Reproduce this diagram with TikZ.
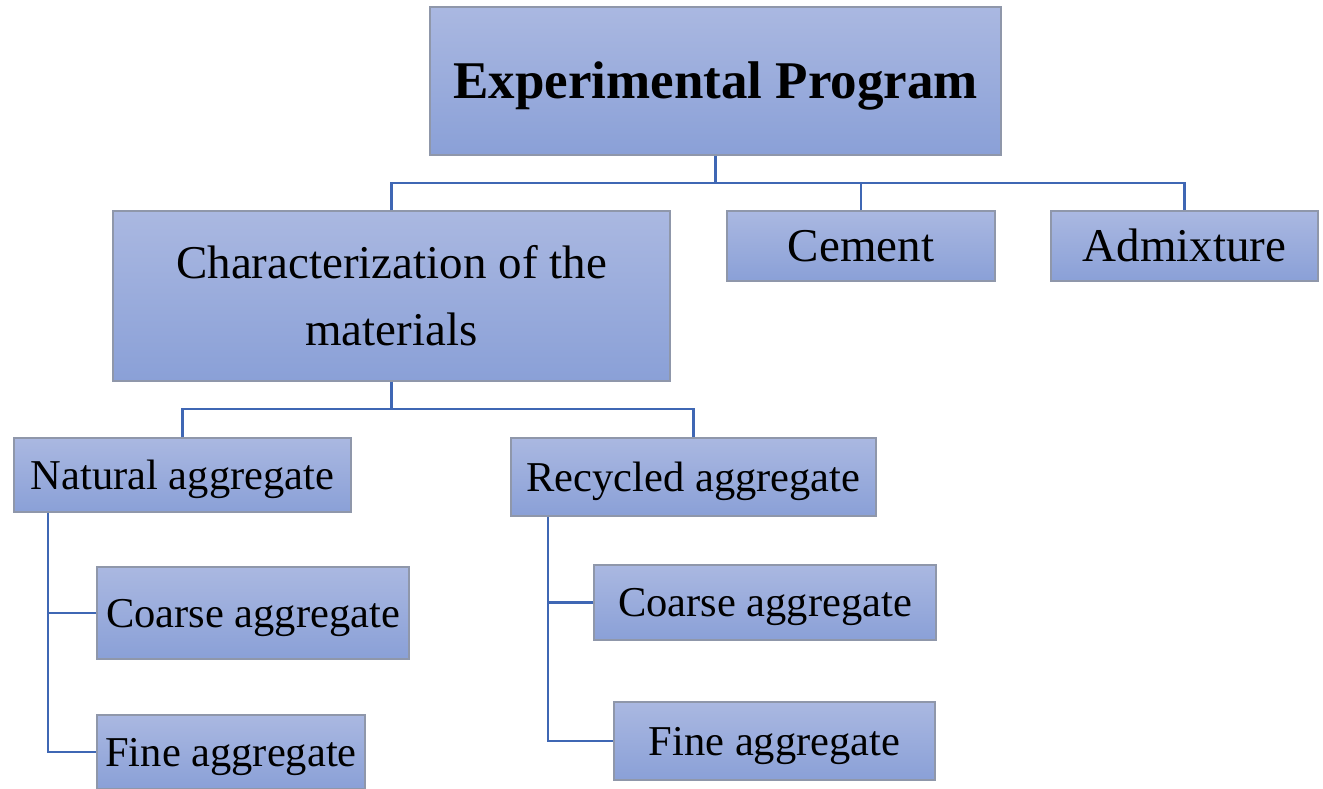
\documentclass[tikz,border=0pt]{standalone}
\usepackage{fontspec}
\setmainfont{Liberation Serif}
\definecolor{boxtop}{HTML}{AAB8E1}
\definecolor{boxbot}{HTML}{8AA0D7}
\definecolor{boxline}{HTML}{8F97AA}
\definecolor{conn}{HTML}{3F67B4}
\tikzset{
  box/.style={draw=boxline, line width=1.3pt, top color=boxtop, bottom color=boxbot,
    inner sep=0pt, text depth=0pt, align=center},
  plain/.style={inner sep=0pt, align=center},
  link/.style={draw=conn, line width=2.6pt},
  fbig/.style={font=\fontsize{53}{60}\selectfont\bfseries, text height=35pt},
  fmid/.style={font=\fontsize{47}{67}\selectfont, text height=31pt},
  fsmall/.style={font=\fontsize{42.5}{50}\selectfont, text height=28pt},
}
\begin{document}
\begin{tikzpicture}[x=1pt,y=-1pt]
\useasboundingbox (0,0) rectangle (1323,788);
% boxes
\node[box,fbig,minimum width=571pt,minimum height=148pt] (ep) at (715.5,81) {Experimental Program};
\node[box,minimum width=557pt,minimum height=170pt] (char) at (391.5,296) {};
\node[plain,font=\fontsize{47}{67}\selectfont] (chartext) at (391.5,296) {Characterization of the\\materials};
\node[box,fmid,minimum width=268pt,minimum height=70pt] (cem) at (861,246) {Cement};
\node[box,fmid,minimum width=267pt,minimum height=70pt] (adm) at (1184.5,246) {Admixture};
\node[box,fsmall,minimum width=337pt,minimum height=74pt] (nat) at (182.5,475) {Natural aggregate};
\node[box,fsmall,minimum width=365pt,minimum height=78pt] (rec) at (693.5,477) {Recycled aggregate};
\node[box,fsmall,minimum width=312pt,minimum height=92pt] (nco) at (253,613) {Coarse aggregate};
\node[box,fsmall,minimum width=268pt,minimum height=74pt] (nfi) at (231,752) {Fine aggregate};
\node[box,fsmall,minimum width=342pt,minimum height=75pt] (rco) at (765,602.5) {Coarse aggregate};
\node[box,fsmall,minimum width=321pt,minimum height=78pt] (rfi) at (774.5,741) {Fine aggregate};
% connectors
\coordinate (bus1) at (715.5,183);
\draw[link] (ep.south) -- (bus1);
\draw[link] (char.north) |- (bus1) -| (adm.north);
\draw[link] (cem.north) -- (cem.north |- bus1);
\coordinate (bus2) at (391.5,409);
\draw[link] (char.south) -- (bus2);
\draw[link] (nat.north) |- (bus2) -| (rec.north);
\draw[link] (nat.south -| 48,0) |- (nfi.west);
\draw[link] (nco.west) -- (nco.west -| 48,0);
\draw[link] (rec.south -| 548,0) |- (rfi.west);
\draw[link] (rco.west) -- (rco.west -| 548,0);
\end{tikzpicture}
\end{document}
